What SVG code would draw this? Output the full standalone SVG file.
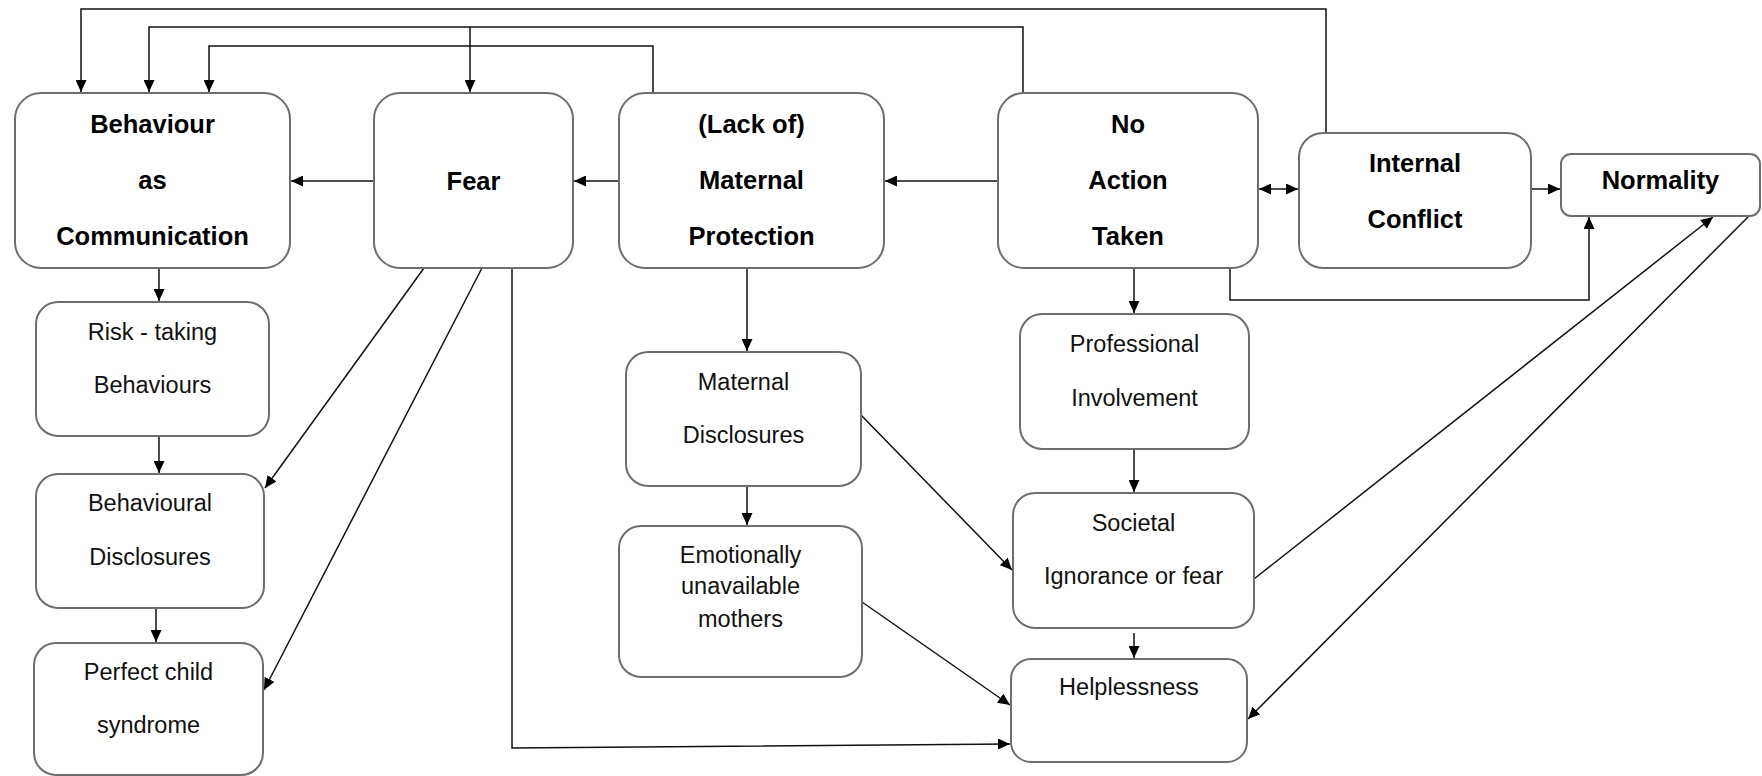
<svg xmlns="http://www.w3.org/2000/svg" width="1762" height="776" viewBox="0 0 1762 776">
<style>
.box{fill:#fff;stroke:#6e6e6e;stroke-width:2}
.b{font-family:"Liberation Sans",Arial,sans-serif;font-weight:bold;font-size:25.5px;text-anchor:middle;fill:#000}
.r{font-family:"Liberation Sans",Arial,sans-serif;font-size:23.5px;text-anchor:middle;fill:#111}
.c{fill:none;stroke:#111;stroke-width:1.5}
</style>
<defs>
<marker id="ah" markerUnits="userSpaceOnUse" markerWidth="13" markerHeight="11" refX="12" refY="5.5" orient="auto-start-reverse">
<path d="M0,0 L12,5.5 L0,11 z" fill="#000"/>
</marker>
</defs>
<rect width="1762" height="776" fill="#fff"/>
<g id="connectors">
<path class="c" d="M1326,133 V9 H81 V92" marker-end="url(#ah)"/>
<path class="c" d="M1023,93 V27 H149 V92" marker-end="url(#ah)"/>
<path class="c" d="M470,27 V92" marker-end="url(#ah)"/>
<path class="c" d="M653,93 V46 H209 V92" marker-end="url(#ah)"/>
<path class="c" d="M374,181 H291" marker-end="url(#ah)"/>
<path class="c" d="M619,181 H574" marker-end="url(#ah)"/>
<path class="c" d="M998,181 H885" marker-end="url(#ah)"/>
<path class="c" d="M1259,189 H1298" marker-start="url(#ah)" marker-end="url(#ah)"/>
<path class="c" d="M1531,189 H1560" marker-end="url(#ah)"/>
<path class="c" d="M1230,268 V300 H1589 V217" marker-end="url(#ah)"/>
<path class="c" d="M1134,268 V313" marker-end="url(#ah)"/>
<path class="c" d="M1134,449 V492" marker-end="url(#ah)"/>
<path class="c" d="M1134,633 V658" marker-end="url(#ah)"/>
<path class="c" d="M747,268 V351" marker-end="url(#ah)"/>
<path class="c" d="M747,486 V525" marker-end="url(#ah)"/>
<path class="c" d="M861,415 L1012,570" marker-end="url(#ah)"/>
<path class="c" d="M862,602 L1010,705" marker-end="url(#ah)"/>
<path class="c" d="M512,268 V748 L1010,744" marker-end="url(#ah)"/>
<path class="c" d="M424,268 L265,488" marker-end="url(#ah)"/>
<path class="c" d="M482,268 L264,690" marker-end="url(#ah)"/>
<path class="c" d="M159,268 V301" marker-end="url(#ah)"/>
<path class="c" d="M159,436 V473" marker-end="url(#ah)"/>
<path class="c" d="M156,608 V642" marker-end="url(#ah)"/>
<path class="c" d="M1254,579 L1713,217" marker-end="url(#ah)"/>
<path class="c" d="M1749,216 L1248,719" marker-end="url(#ah)"/>
</g>
<g id="behaviour-as-communication">
<rect class="box" x="15" y="93" width="275" height="175" rx="26"/>
<text class="b" x="152.5" y="133">Behaviour</text>
<text class="b" x="152.5" y="189">as</text>
<text class="b" x="152.5" y="245">Communication</text>
</g>
<g id="fear">
<rect class="box" x="374" y="93" width="199" height="175" rx="26"/>
<text class="b" x="473.5" y="190">Fear</text>
</g>
<g id="maternal-protection">
<rect class="box" x="619" y="93" width="265" height="175" rx="26"/>
<text class="b" x="751.5" y="133">(Lack of)</text>
<text class="b" x="751.5" y="189">Maternal</text>
<text class="b" x="751.5" y="245">Protection</text>
</g>
<g id="no-action-taken">
<rect class="box" x="998" y="93" width="260" height="175" rx="26"/>
<text class="b" x="1128" y="133">No</text>
<text class="b" x="1128" y="189">Action</text>
<text class="b" x="1128" y="245">Taken</text>
</g>
<g id="internal-conflict">
<rect class="box" x="1299" y="133" width="232" height="135" rx="24"/>
<text class="b" x="1415" y="172">Internal</text>
<text class="b" x="1415" y="228">Conflict</text>
</g>
<g id="normality">
<rect class="box" x="1561" y="154" width="199" height="62" rx="10"/>
<text class="b" x="1660.5" y="189">Normality</text>
</g>
<g id="risk-taking">
<rect class="box" x="36" y="302" width="233" height="134" rx="22"/>
<text class="r" x="152.5" y="340">Risk - taking</text>
<text class="r" x="152.5" y="393">Behaviours</text>
</g>
<g id="behavioural-disclosures">
<rect class="box" x="36" y="474" width="228" height="134" rx="22"/>
<text class="r" x="150" y="511">Behavioural</text>
<text class="r" x="150" y="565">Disclosures</text>
</g>
<g id="perfect-child">
<rect class="box" x="34" y="643" width="229" height="132" rx="22"/>
<text class="r" x="148.5" y="680">Perfect child</text>
<text class="r" x="148.5" y="733">syndrome</text>
</g>
<g id="maternal-disclosures">
<rect class="box" x="626" y="352" width="235" height="134" rx="22"/>
<text class="r" x="743.5" y="390">Maternal</text>
<text class="r" x="743.5" y="443">Disclosures</text>
</g>
<g id="emotionally-unavailable">
<rect class="box" x="619" y="526" width="243" height="151" rx="22"/>
<text class="r" x="740.5" y="563">Emotionally</text>
<text class="r" x="740.5" y="594">unavailable</text>
<text class="r" x="740.5" y="627">mothers</text>
</g>
<g id="professional-involvement">
<rect class="box" x="1020" y="314" width="229" height="135" rx="22"/>
<text class="r" x="1134.5" y="352">Professional</text>
<text class="r" x="1134.5" y="406">Involvement</text>
</g>
<g id="societal">
<rect class="box" x="1013" y="493" width="241" height="135" rx="22"/>
<text class="r" x="1133.5" y="531">Societal</text>
<text class="r" x="1133.5" y="584">Ignorance or fear</text>
</g>
<g id="helplessness">
<rect class="box" x="1011" y="659" width="236" height="103" rx="20"/>
<text class="r" x="1129" y="695">Helplessness</text>
</g>
</svg>
